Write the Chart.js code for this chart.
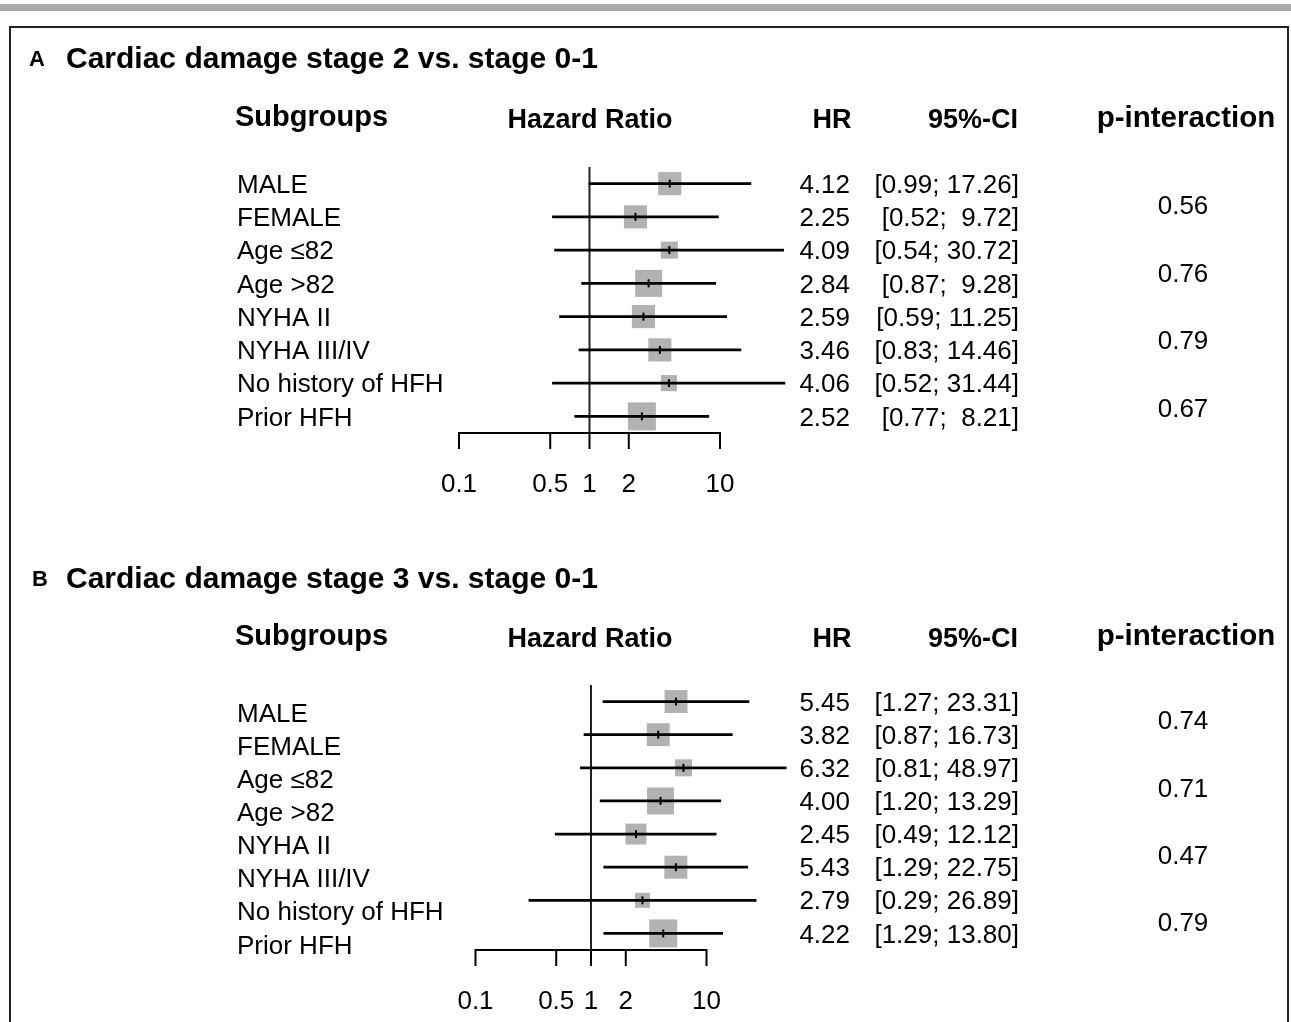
<!DOCTYPE html>
<html>
<head>
<meta charset="utf-8">
<script src="https://cdn.jsdelivr.net/npm/chart.js@4.4.0/dist/chart.umd.min.js"></script>
<style>
  html, body { margin: 0; padding: 0; background: #fff; overflow: hidden; }
  #page { position: relative; width: 1291px; height: 1022px; overflow: hidden; }
  .topbar { position: absolute; left: 0; top: 4px; width: 1291px; height: 7px; background: #a9a9a9; }
  .frame { position: absolute; left: 9px; top: 26px; width: 1276px; height: 1100px; border: 2px solid #222; }
  .panel { position: absolute; left: 0; width: 1291px; }
  canvas { display: block; }
</style>
</head>
<body>
<div id="page">
  <div class="topbar"></div>
  <div class="frame"></div>
  <div class="panel" style="top:0;height:520px"><canvas id="panelA" width="1291" height="520"></canvas></div>
  <div class="panel" style="top:520px;height:502px"><canvas id="panelB" width="1291" height="502"></canvas></div>
</div>
<script>
const subgroups = ["MALE", "FEMALE", "Age ≤82", "Age >82", "NYHA II", "NYHA III/IV", "No history of HFH", "Prior HFH"];
const tickValues = [0.1, 0.5, 1, 2, 10];
const refValue = 1;

// stage 2 vs stage 0-1
const hrA = [4.12, 2.25, 4.09, 2.84, 2.59, 3.46, 4.06, 2.52];
const lowerA = [0.99, 0.52, 0.54, 0.87, 0.59, 0.83, 0.52, 0.77];
const upperA = [17.26, 9.72, 30.72, 9.28, 11.25, 14.46, 31.44, 8.21];
const weightA = [0.68, 0.68, 0.37, 0.93, 0.68, 0.68, 0.33, 1.0];
const pInteractionA = ["0.56", "0.76", "0.79", "0.67"];

// stage 3 vs stage 0-1
const hrB = [5.45, 3.82, 6.32, 4.00, 2.45, 5.43, 2.79, 4.22];
const lowerB = [1.27, 0.87, 0.81, 1.20, 0.49, 1.29, 0.29, 1.29];
const upperB = [23.31, 16.73, 48.97, 13.29, 12.12, 22.75, 26.89, 13.80];
const weightB = [0.67, 0.67, 0.37, 0.93, 0.56, 0.67, 0.29, 1.0];
const pInteractionB = ["0.74", "0.71", "0.47", "0.79"];

const FONT = "'Liberation Sans', Arial, Helvetica, sans-serif";
const SQUARE_MAX = 28;
const NUDGE = 2; // middle baseline sits a bit high

const fmt = (v) => v.toFixed(2);
const ciText = (lo, hi) => "[" + fmt(lo) + ";" + (hi < 10 ? "  " : " ") + fmt(hi) + "]";

function forestText(p) {
  return {
    id: "forestText",
    afterDraw(chart) {
      const { ctx, scales: { x, y } } = chart;
      const off = p.top - NUDGE;
      ctx.save();
      ctx.fillStyle = "#000";
      ctx.strokeStyle = "#000";
      ctx.textBaseline = "middle";

      // panel title
      ctx.textAlign = "left";
      ctx.font = "bold 22px " + FONT;
      ctx.fillText(p.letter, p.letterX, p.titleY - off);
      ctx.font = "bold 30px " + FONT;
      ctx.fillText(p.title, 66, p.titleY - off);

      // column headers
      ctx.font = "bold 29px " + FONT;
      ctx.fillText("Subgroups", 235, p.headY - off - 2);
      ctx.textAlign = "center";
      ctx.font = "bold 29.5px " + FONT;
      ctx.fillText("p-interaction", 1186, p.headY - off - 1 - p.pHeadShift);
      ctx.font = "bold 27px " + FONT;
      ctx.fillText("Hazard Ratio", 590, p.headY - off + 1);
      ctx.fillText("HR", 832, p.headY - off + 1);
      ctx.textAlign = "right";
      ctx.fillText("95%-CI", 1018, p.headY - off + 1);

      // rows
      ctx.font = "26px " + FONT;
      p.hr.forEach((v, i) => {
        const py = y.getPixelForValue(i) + NUDGE;
        ctx.textAlign = "left";
        ctx.fillText(subgroups[i], 237, py + p.labelShift);
        ctx.textAlign = "right";
        ctx.fillText(fmt(v), 850, py);
        ctx.fillText(ciText(p.lower[i], p.upper[i]), 1019, py);
      });
      ctx.textAlign = "center";
      p.pValues.forEach((s, k) => {
        ctx.fillText(s, 1183, y.getPixelForValue(2 * k + 0.5) + p.pShift + k + NUDGE);
      });

      // log axis 0.1 .. 10
      const axisY = y.getPixelForValue(y.max);
      ctx.lineWidth = 2;
      ctx.beginPath();
      ctx.moveTo(x.getPixelForValue(tickValues[0]) - 1, axisY);
      ctx.lineTo(x.getPixelForValue(tickValues[tickValues.length - 1]) + 1, axisY);
      tickValues.forEach((v) => {
        const px = x.getPixelForValue(v);
        ctx.moveTo(px, axisY);
        ctx.lineTo(px, axisY + 16);
      });
      ctx.stroke();
      tickValues.forEach((v) => {
        ctx.fillText(String(v), x.getPixelForValue(v), axisY + 50 + NUDGE);
      });
      ctx.restore();
    },
  };
}

function makePanel(id, p) {
  const rows = p.hr.map((_, i) => i);
  return new Chart(document.getElementById(id), {
    type: "scatter",
    data: {
      datasets: [
        {
          type: "scatter",
          data: rows.map((i) => ({ x: p.hr[i], y: i })),
          pointStyle: "line",
          pointRotation: 90,
          pointRadius: 4,
          pointBorderWidth: 2,
          pointBorderColor: "#000",
          clip: false,
        },
        {
          type: "bar",
          indexAxis: "y",
          data: rows.map((i) => ({ x: [p.lower[i], p.upper[i]], y: i })),
          backgroundColor: "#000",
          borderWidth: 0,
          barThickness: 2,
          grouped: false,
          clip: false,
        },
        {
          type: "scatter",
          data: rows.map((i) => ({ x: p.hr[i], y: i })),
          pointStyle: "rect",
          pointRadius: p.weight.map((w) => (SQUARE_MAX * Math.sqrt(w)) / Math.SQRT2),
          pointBackgroundColor: "#b2b2b2",
          pointBorderWidth: 0,
          clip: false,
        },
        {
          type: "line",
          data: [{ x: refValue, y: -0.5 }, { x: refValue, y: 7.5 }],
          borderColor: "#222",
          borderWidth: 2,
          pointRadius: 0,
          clip: false,
        },
      ],
    },
    options: {
      responsive: false,
      animation: false,
      events: [],
      layout: { padding: p.padding },
      scales: {
        x: { type: "logarithmic", min: 0.1, max: 10, display: false, beginAtZero: false, offset: false },
        y: { type: "linear", min: -0.5, max: 7.5, reverse: true, display: false, offset: false },
      },
      plugins: { legend: { display: false }, tooltip: { enabled: false } },
    },
    plugins: [forestText(p)],
  });
}

makePanel("panelA", {
  top: 0,
  letter: "A",
  letterX: 29,
  title: "Cardiac damage stage 2 vs. stage 0-1",
  titleY: 58,
  headY: 118,
  pHeadShift: 0,
  labelShift: 0,
  pShift: 5,
  hr: hrA, lower: lowerA, upper: upperA, weight: weightA, pValues: pInteractionA,
  padding: { left: 459, right: 571, top: 167, bottom: 87 },
});

makePanel("panelB", {
  top: 520,
  letter: "B",
  letterX: 32,
  title: "Cardiac damage stage 3 vs. stage 0-1",
  titleY: 578,
  headY: 637,
  pHeadShift: 1,
  labelShift: 11,
  pShift: 2,
  hr: hrB, lower: lowerB, upper: upperB, weight: weightB, pValues: pInteractionB,
  padding: { left: 475.5, right: 584.5, top: 165, bottom: 72 },
});
</script>
</body>
</html>
